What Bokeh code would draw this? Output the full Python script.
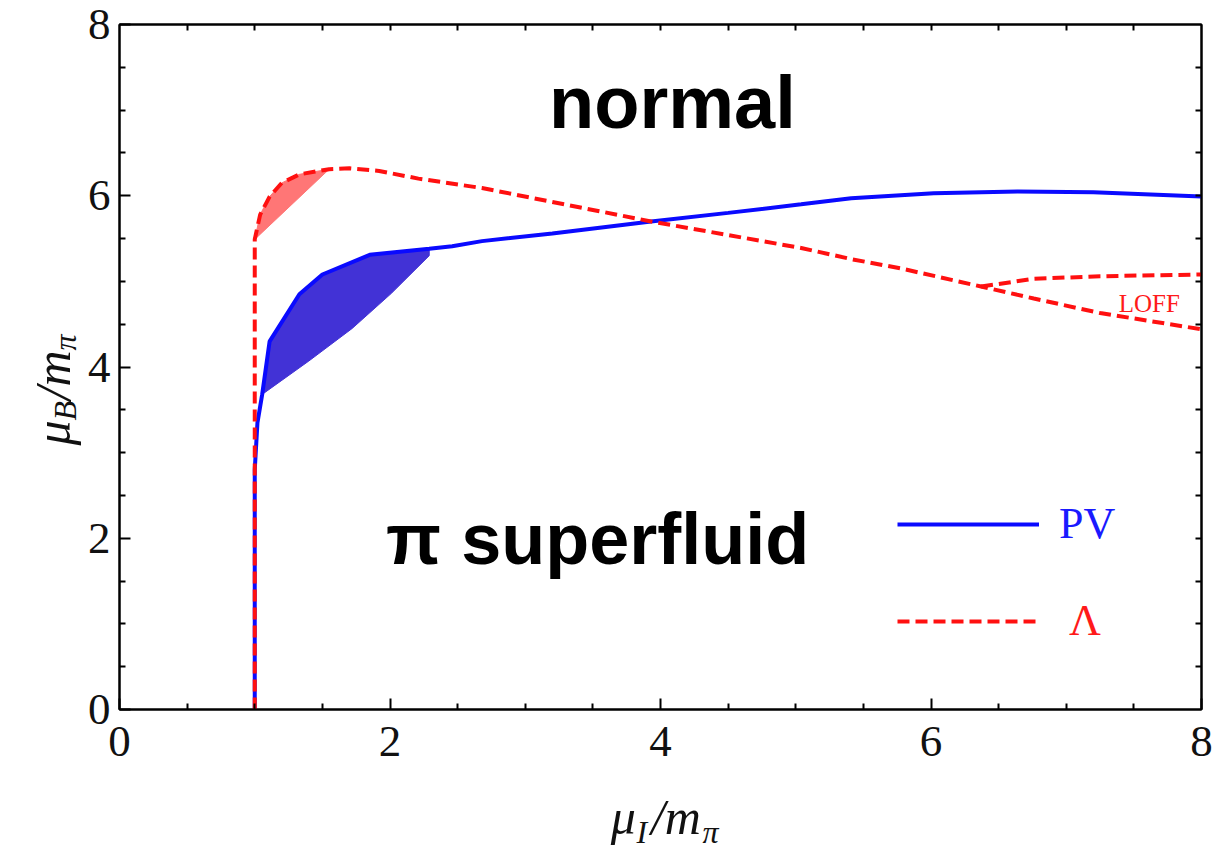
import math
from bokeh.plotting import figure
from bokeh.layouts import row, column
from bokeh.models import (LinearAxis, FixedTicker, Range1d, Label, Legend,
                          LegendItem)
from bokeh.embed import file_html
from bokeh.resources import INLINE

# ---------------- data ----------------
x_ticks = [0, 2, 4, 6, 8]
y_ticks = [0, 2, 4, 6, 8]
minor_ticks = [0.5, 1, 1.5, 2.5, 3, 3.5, 4.5, 5, 5.5, 6.5, 7, 7.5]
frame_ticks = [0.5, 1, 1.5, 2, 2.5, 3, 3.5, 4, 4.5, 5, 5.5, 6, 6.5, 7, 7.5]

# PV boundary (solid blue)
pv_x = [1.00, 1.00, 1.02, 1.055, 1.11, 1.33, 1.50, 1.85, 2.29, 2.46, 2.68,
        3.20, 3.93, 4.50, 5.04, 5.41, 6.02, 6.64, 7.20, 8.00]
pv_y = [0.00, 2.80, 3.35, 3.68, 4.30, 4.85, 5.08, 5.31, 5.38, 5.41, 5.47,
        5.56, 5.70, 5.80, 5.90, 5.97, 6.03, 6.05, 6.04, 5.99]

# PV uncertainty band
pv_band_upper_x = [1.055, 1.11, 1.33, 1.50, 1.85, 2.29]
pv_band_upper_y = [3.68, 4.30, 4.85, 5.08, 5.31, 5.38]
pv_band_lower_x = [1.055, 1.40, 1.72, 2.01, 2.29]
pv_band_lower_y = [3.68, 4.07, 4.45, 4.86, 5.30]

# Lambda boundary (dashed red)
lam_x = [1.00, 1.00, 1.04, 1.11, 1.20, 1.33, 1.55, 1.70, 1.92, 2.21, 2.68,
         3.93, 5.04, 5.41, 5.78, 6.37, 6.76, 7.25, 8.00]
lam_y = [0.00, 5.49, 5.78, 5.99, 6.15, 6.25, 6.31, 6.32, 6.29, 6.20, 6.09,
         5.70, 5.39, 5.26, 5.15, 4.94, 4.80, 4.63, 4.44]

# LOFF upper branch
loff_x = [6.37, 6.76, 7.25, 8.00]
loff_y = [4.94, 5.03, 5.06, 5.08]

# Lambda band
lam_band_x = [1.00, 1.04, 1.11, 1.20, 1.33, 1.55]
lam_band_y = [5.49, 5.78, 5.99, 6.15, 6.25, 6.31]

LEFT_W = 84          # width of the strip holding the y title
MAIN_H = 784         # height of the main plot (x title strip below)
W, H = 1216, 852
DESC = 0.21          # descent fraction (label anchor is the text-box bottom)

# ---------------- main figure ----------------
p = figure(width=W - LEFT_W, height=MAIN_H,
           x_range=Range1d(0, 8), y_range=Range1d(0, 8),
           output_backend="svg", toolbar_location=None,
           min_border_left=117 - LEFT_W, min_border_right=15,
           min_border_top=24, min_border_bottom=MAIN_H - 709)
p.xgrid.visible = False
p.ygrid.visible = False
p.outline_line_color = "black"
p.outline_line_width = 2
p.background_fill_color = "white"
p.border_fill_color = "white"

xt = FixedTicker(ticks=x_ticks, minor_ticks=minor_ticks)
yt = FixedTicker(ticks=y_ticks, minor_ticks=minor_ticks)
ft = FixedTicker(ticks=[], minor_ticks=frame_ticks)


def style_axis(ax):
    ax.axis_line_color = "black"
    ax.axis_line_width = 2
    ax.major_tick_in = 11
    ax.major_tick_out = 0
    ax.minor_tick_in = 6
    ax.minor_tick_out = 0
    ax.major_tick_line_width = 2
    ax.minor_tick_line_width = 2
    ax.major_tick_line_color = "black"
    ax.minor_tick_line_color = "black"
    ax.major_label_text_font = "Liberation Serif"
    ax.major_label_text_font_size = "45px"
    ax.major_label_text_color = "#111111"


p.xaxis.ticker = xt
p.yaxis.ticker = yt
style_axis(p.xaxis[0])
style_axis(p.yaxis[0])
p.xaxis.major_label_standoff = 17
p.yaxis.major_label_standoff = 9

top_ax = LinearAxis(ticker=ft)
right_ax = LinearAxis(ticker=ft)
for ax in (top_ax, right_ax):
    style_axis(ax)
    ax.major_label_standoff = 0
p.add_layout(top_ax, "above")
p.add_layout(right_ax, "right")

# ---------------- bands ----------------
p.patch(pv_band_upper_x + pv_band_lower_x[::-1],
        pv_band_upper_y + pv_band_lower_y[::-1],
        fill_color="#4232d6", line_color="#4232d6", line_width=1)
p.patch(lam_band_x, lam_band_y, fill_color="#ff7676", line_color="#ff7676",
        line_width=1)

# ---------------- curves ----------------
pv_r = p.line(pv_x, pv_y, line_color="#0a0aff", line_width=4)
lam_r = p.line(lam_x, lam_y, line_color="#ff1010", line_width=4,
               line_dash="12 6")
p.line(loff_x, loff_y, line_color="#ff1010", line_width=4, line_dash="12 6")

# ---------------- legends ----------------
leg_common = dict(glyph_width=142, glyph_height=40, label_height=40,
                  padding=0, margin=0, spacing=0, border_line_color=None,
                  background_fill_alpha=0,
                  label_text_font="Liberation Serif",
                  label_text_font_size="44px")
leg1 = Legend(items=[LegendItem(label="PV", renderers=[pv_r])],
              location=(778, 160), label_standoff=20,
              label_text_color="#1a1aff", **leg_common)
leg2 = Legend(items=[LegendItem(label="Λ", renderers=[lam_r])],
              location=(778, 63), label_standoff=30,
              label_text_color="#ff1a1a", **leg_common)
p.add_layout(leg1)
p.add_layout(leg2)


# ---------------- region labels ----------------
def py2y(py):
    return (709 - py) / 85.75


def px2x(px):
    return (px - 117) / 135.5


def region_label(px, base_py, text, size, font, style, color, align):
    p.add_layout(Label(x=px2x(px), y=py2y(base_py + DESC * size), text=text,
                       text_align=align, text_baseline="bottom",
                       text_font=font, text_font_style=style,
                       text_font_size=f"{size}px", text_color=color))


region_label(671, 127, "normal", 74, "Liberation Sans", "bold", "black",
             "center")
region_label(384, 563, "π superfluid", 72, "Liberation Sans", "bold",
             "black", "left")
region_label(1118, 311, "LOFF", 25, "Liberation Serif", "normal", "#ff1a1a",
             "left")


# ---------------- axis title strips ----------------
def strip(width, height):
    f = figure(width=width, height=height, x_range=Range1d(0, width),
               y_range=Range1d(0, height), output_backend="svg",
               toolbar_location=None, min_border=0,
               x_axis_location=None, y_axis_location=None)
    f.grid.visible = False
    f.outline_line_color = None
    f.background_fill_color = "white"
    f.border_fill_color = "white"
    return f


def piece(f, x, y, t, size, angle=0.0):
    f.add_layout(Label(x=x, y=y, text=t, angle=angle, text_align="left",
                       text_baseline="bottom",
                       text_font="Liberation Serif", text_font_style="italic",
                       text_font_size=f"{size}px", text_color="#111111"))


# x title strip (page x = LEFT_W + data x, page y = H - data y)
XS_H = H - MAIN_H
xs = strip(W - LEFT_W, XS_H)


def xpiece(page_x, base_py, t, size):
    piece(xs, page_x - LEFT_W, H - (base_py + DESC * size), t, size)


xpiece(598, 834, "μ", 50)
xpiece(625, 843, "I", 32)
xpiece(640, 834, "/m", 50)
xpiece(694, 843, "π", 32)

# y title strip (page x = data x, page y = H - data y), rotated text
ys = strip(LEFT_W, H)
a = math.pi / 2


def ypiece(base_px, page_y, t, size):
    piece(ys, base_px + DESC * size, H - page_y, t, size, a)


ypiece(70, 445, "μ", 50)
ypiece(76, 420, "B", 32)
ypiece(70, 400, "/m", 50)
ypiece(76, 350, "π", 32)

layout = row(ys, column(p, xs, spacing=0), spacing=0)

open("out.html", "w").write(file_html(layout, INLINE))
